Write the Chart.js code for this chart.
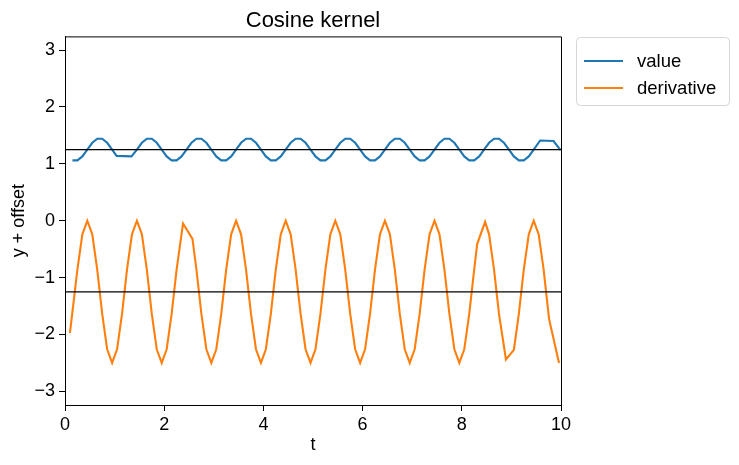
<!DOCTYPE html>
<html>
<head>
<meta charset="utf-8">
<script src="https://cdn.jsdelivr.net/npm/chart.js@4.4.1/dist/chart.umd.min.js"></script>
<style>
  html, body { margin: 0; padding: 0; background: #fff; }
  #wrap { width: 739px; height: 465px; }
</style>
</head>
<body>
<div id="wrap"><canvas id="chart" width="739" height="465"></canvas></div>
<script>
// data
const valueT = [0.15, 0.25, 0.35, 0.45, 0.55, 0.65, 0.75, 0.85, 0.95, 1.04, 1.34, 1.45, 1.55, 1.65, 1.75, 1.85, 1.95,
  2.05, 2.15, 2.25, 2.35, 2.45, 2.55, 2.65, 2.75, 2.85, 2.95, 3.05, 3.15, 3.25, 3.35, 3.45, 3.55, 3.65, 3.75, 3.85, 3.95,
  4.05, 4.15, 4.25, 4.35, 4.45, 4.55, 4.65, 4.75, 4.85, 4.95, 5.05, 5.15, 5.25, 5.35, 5.45, 5.55, 5.65, 5.75, 5.85, 5.95,
  6.05, 6.15, 6.25, 6.35, 6.45, 6.55, 6.65, 6.75, 6.85, 6.95, 7.05, 7.15, 7.25, 7.35, 7.45, 7.55, 7.65, 7.75, 7.85, 7.95,
  8.05, 8.15, 8.25, 8.35, 8.45, 8.55, 8.65, 8.75, 8.85, 8.95, 9.05, 9.15, 9.25, 9.35, 9.45, 9.58, 9.85, 9.99];
const valueY = [1.06, 1.06, 1.13, 1.25, 1.37, 1.44, 1.44, 1.37, 1.25, 1.14, 1.13, 1.25, 1.37, 1.44, 1.44, 1.37, 1.25,
  1.13, 1.06, 1.06, 1.13, 1.25, 1.37, 1.44, 1.44, 1.37, 1.25, 1.13, 1.06, 1.06, 1.13, 1.25, 1.37, 1.44, 1.44, 1.37, 1.25,
  1.13, 1.06, 1.06, 1.13, 1.25, 1.37, 1.44, 1.44, 1.37, 1.25, 1.13, 1.06, 1.06, 1.13, 1.25, 1.37, 1.44, 1.44, 1.37, 1.25,
  1.13, 1.06, 1.06, 1.13, 1.25, 1.37, 1.44, 1.44, 1.37, 1.25, 1.13, 1.06, 1.06, 1.13, 1.25, 1.37, 1.44, 1.44, 1.37, 1.25,
  1.13, 1.06, 1.06, 1.13, 1.25, 1.37, 1.44, 1.44, 1.37, 1.25, 1.13, 1.06, 1.06, 1.13, 1.25, 1.41, 1.40, 1.24];

const derivT = [0.10, 0.25, 0.35, 0.45, 0.55, 0.65, 0.75, 0.85, 0.95, 1.05, 1.15, 1.25, 1.35, 1.45, 1.55, 1.65, 1.75, 1.85, 1.95,
  2.05, 2.15, 2.25, 2.38, 2.57, 2.65, 2.75, 2.85, 2.95, 3.05, 3.15, 3.25, 3.35, 3.45, 3.55, 3.65, 3.75, 3.85, 3.95,
  4.05, 4.15, 4.25, 4.35, 4.45, 4.55, 4.65, 4.75, 4.85, 4.95, 5.05, 5.15, 5.25, 5.35, 5.45, 5.55, 5.65, 5.75, 5.85, 5.95,
  6.05, 6.15, 6.25, 6.35, 6.45, 6.55, 6.65, 6.75, 6.85, 6.95, 7.05, 7.15, 7.25, 7.35, 7.45, 7.55, 7.65, 7.75, 7.85, 7.95,
  8.05, 8.15, 8.25, 8.31, 8.47, 8.55, 8.65, 8.75, 8.89, 9.05, 9.15, 9.25, 9.35, 9.45, 9.55, 9.65, 9.76, 9.96];
const derivY = [-1.97, -0.86, -0.24, 0.00, -0.24, -0.86, -1.64, -2.26, -2.50, -2.26, -1.64, -0.86, -0.24, 0.00, -0.24, -0.86, -1.64, -2.26, -2.50,
  -2.26, -1.64, -0.86, -0.05, -0.32, -0.86, -1.64, -2.26, -2.50, -2.26, -1.64, -0.86, -0.24, 0.00, -0.24, -0.86, -1.64, -2.26, -2.50,
  -2.26, -1.64, -0.86, -0.24, 0.00, -0.24, -0.86, -1.64, -2.26, -2.50, -2.26, -1.64, -0.86, -0.24, 0.00, -0.24, -0.86, -1.64, -2.26, -2.50,
  -2.26, -1.64, -0.86, -0.24, 0.00, -0.24, -0.86, -1.64, -2.26, -2.50, -2.26, -1.64, -0.86, -0.24, 0.00, -0.24, -0.86, -1.64, -2.26, -2.50,
  -2.26, -1.64, -0.86, -0.41, -0.02, -0.24, -0.86, -1.64, -2.44, -2.27, -1.64, -0.86, -0.24, 0.00, -0.24, -0.86, -1.73, -2.50];

const offsets = [1.25, -1.25];
const xTicks = [0, 2, 4, 6, 8, 10];
const yTicks = [-3, -2, -1, 0, 1, 2, 3];
const seriesNames = ['value', 'derivative'];
const seriesColors = ['#1f77b4', '#ff7f0e'];

const FONT = "'Liberation Sans', Arial, sans-serif";
const pts = (xs, ys) => xs.map((x, i) => ({x: x, y: ys[i]}));
const fmt = v => String(v).replace('-', '\u2212');

// legend box drawn outside the plot, on the right
const sideLegend = {
    id: 'sideLegend',
    afterDraw(chart) {
        const ctx = chart.ctx;
        const x0 = 576, y0 = 37, w = 153, h = 68;
        ctx.save();
        ctx.beginPath();
        ctx.roundRect(x0 + 0.5, y0 + 0.5, w, h, 4);
        ctx.fillStyle = 'rgba(255,255,255,0.8)';
        ctx.fill();
        ctx.strokeStyle = '#d6d6d6';
        ctx.lineWidth = 1;
        ctx.stroke();
        ctx.font = '18.5px ' + FONT;
        ctx.textBaseline = 'middle';
        seriesNames.forEach((name, i) => {
            const y = y0 + 24 + i * 27;
            ctx.beginPath();
            ctx.moveTo(x0 + 8, y);
            ctx.lineTo(x0 + 47, y);
            ctx.strokeStyle = seriesColors[i];
            ctx.lineWidth = 2;
            ctx.stroke();
            ctx.fillStyle = '#000';
            ctx.fillText(name, x0 + 61, y + 1);
        });
        ctx.restore();
    }
};

new Chart(document.getElementById('chart'), {
    type: 'line',
    data: {
        datasets: [
            {label: seriesNames[0], data: pts(valueT, valueY), borderColor: seriesColors[0], borderWidth: 2.1, order: 2},
            {label: seriesNames[1], data: pts(derivT, derivY), borderColor: seriesColors[1], borderWidth: 2.1, order: 3},
            {label: 'ref1', data: pts([0, 10], [offsets[0], offsets[0]]), borderColor: '#000', borderWidth: 1.3, order: 1},
            {label: 'ref2', data: pts([0, 10], [offsets[1], offsets[1]]), borderColor: '#000', borderWidth: 1.3, order: 1}
        ]
    },
    options: {
        responsive: false,
        animation: false,
        events: [],
        elements: {point: {radius: 0}, line: {tension: 0}},
        layout: {padding: {left: 0, right: 178, top: 0, bottom: 0}},
        plugins: {
            legend: {display: false},
            tooltip: {enabled: false},
            title: {
                display: true,
                text: 'Cosine kernel',
                color: '#000',
                fullSize: false,
                font: {family: FONT, size: 22, weight: 'normal'},
                padding: {top: 8, bottom: 2}
            }
        },
        scales: {
            x: {
                type: 'linear',
                min: 0, max: 10,
                afterBuildTicks: s => { s.ticks = xTicks.map(v => ({value: v})); },
                afterFit: s => { s.height = 60; },
                ticks: {color: '#000', font: {family: FONT, size: 18}, padding: 3, maxRotation: 0,
                        callback: v => fmt(v)},
                grid: {drawOnChartArea: false, tickLength: 6, tickColor: '#000', tickWidth: 1},
                border: {color: '#000', width: 1},
                title: {display: true, text: 't', color: '#000', font: {family: FONT, size: 18}, padding: {top: 0, bottom: 9}}
            },
            y: {
                min: -3.24, max: 3.24,
                afterBuildTicks: s => { s.ticks = yTicks.map(v => ({value: v})); },
                afterFit: s => { s.width = 65; },
                ticks: {color: '#000', font: {family: FONT, size: 18}, padding: 4,
                        callback: v => fmt(v)},
                grid: {drawOnChartArea: false, tickLength: 6, tickColor: '#000', tickWidth: 1},
                border: {color: '#000', width: 1},
                title: {display: true, text: 'y + offset', color: '#000', font: {family: FONT, size: 18}, padding: {top: 8, bottom: 2}}
            }
        }
    },
    plugins: [sideLegend, {
        id: 'rightTopFrame',
        afterDraw(chart) {
            const a = chart.chartArea, ctx = chart.ctx;
            ctx.save();
            ctx.strokeStyle = '#000';
            ctx.lineWidth = 1;
            ctx.beginPath();
            ctx.moveTo(a.left, a.top + 0.5);
            ctx.lineTo(a.right + 0.5, a.top + 0.5);
            ctx.lineTo(a.right + 0.5, a.bottom);
            ctx.stroke();
            ctx.restore();
        }
    }]
});
</script>
</body>
</html>
